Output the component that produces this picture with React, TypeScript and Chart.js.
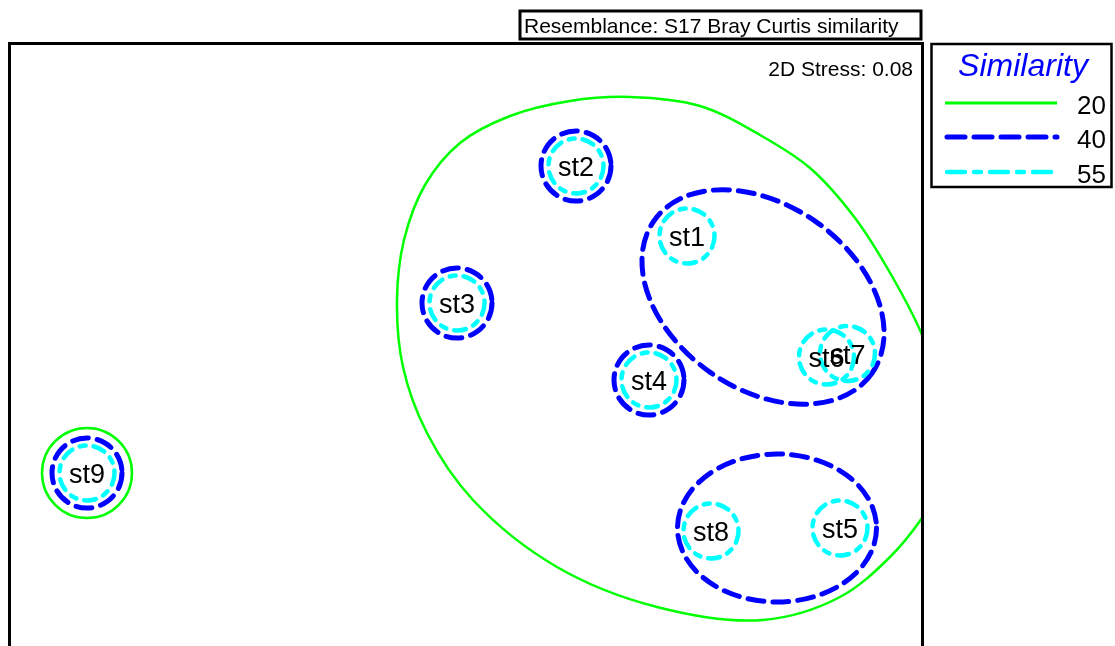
import React, { useEffect, useRef } from "react";
import { Chart, registerables } from "chart.js";

Chart.register(...registerables);

// nMDS configuration (arbitrary MDS units)
const sampleLabels = ["st1", "st2", "st3", "st4", "st5", "st6", "st7", "st8", "st9"];
const sampleX = [67.7, 56.6, 44.7, 63.9, 83.0, 81.65, 83.75, 70.1, 7.7];
const sampleY = [41.0, 48.0, 34.3, 26.6, 11.8, 28.9, 29.25, 11.5, 17.3];

// Similarity contour levels
const levelValues = ["20", "40", "55"];

// 55% contours: ellipses (cx, cy, rx, ry, angle deg)
const c55Cx = [67.7, 56.6, 44.7, 63.9, 83.0, 81.65, 83.75, 70.1, 7.7];
const c55Cy = [41.0, 48.0, 34.3, 26.6, 11.8, 28.9, 29.25, 11.5, 17.3];
const c55Rx = [2.75, 2.75, 2.75, 2.75, 2.75, 2.75, 2.75, 2.75, 2.75];
const c55Ry = [2.75, 2.75, 2.75, 2.75, 2.75, 2.75, 2.75, 2.75, 2.75];
const c55Ang = [0, 0, 0, 0, 0, 0, 0, 0, 0];

// 40% contours
const c40Cx = [56.6, 44.7, 63.9, 7.7, 75.3, 76.7];
const c40Cy = [48.0, 34.3, 26.6, 17.3, 34.9, 11.8];
const c40Rx = [3.5, 3.5, 3.5, 3.5, 13.3, 9.95];
const c40Ry = [3.5, 3.5, 3.5, 3.5, 9.2, 7.4];
const c40Ang = [0, 0, 0, 0, -35, 0];

// 20% contours: circle around st9 and a closed curve around the rest
const c20CircleCx = [7.7];
const c20CircleCy = [17.3];
const c20CircleR = [4.5];
const c20CurveX = [62.0, 69.0, 75.0, 80.0, 84.5, 88.3, 91.3, 93.2, 93.8, 92.8, 91.2, 88.0, 83.0, 75.3, 64.7, 54.7, 46.3, 41.7, 39.3, 38.7, 39.4, 41.5, 45.0, 50.0, 56.0];
const c20CurveY = [54.9, 54.0, 51.1, 47.8, 42.8, 36.8, 30.9, 25.1, 20.1, 15.6, 12.8, 8.9, 4.9, 2.6, 3.9, 7.9, 14.6, 21.3, 27.9, 34.6, 40.6, 46.1, 50.3, 53.0, 54.5];

const stressText = "2D Stress: 0.08";
const titleText = "Resemblance: S17 Bray Curtis similarity";
const legendTitle = "Similarity";

const GREEN = "#00ff00";
const BLUE = "#0000ff";
const CYAN = "#00ffff";
const FONT = "'Liberation Sans', Arial, sans-serif";

function setStyle(ctx: CanvasRenderingContext2D, level: number) {
  ctx.lineCap = "round";
  ctx.lineJoin = "round";
  if (level === 0) {
    ctx.strokeStyle = GREEN;
    ctx.lineWidth = 2.5;
    ctx.setLineDash([]);
  } else if (level === 1) {
    ctx.strokeStyle = BLUE;
    ctx.lineWidth = 5;
    ctx.setLineDash([16, 9]);
  } else {
    ctx.strokeStyle = CYAN;
    ctx.lineWidth = 4.5;
    ctx.setLineDash([12, 8, 6, 8]);
  }
}

const contourPlugin = {
  id: "contours",
  beforeDatasetsDraw(chart: any) {
    const { ctx, chartArea } = chart;
    const xs = chart.scales.x;
    const ys = chart.scales.y;
    const unit = xs.getPixelForValue(1) - xs.getPixelForValue(0);
    ctx.save();
    ctx.beginPath();
    ctx.rect(chartArea.left, chartArea.top, chartArea.right - chartArea.left, chartArea.bottom - chartArea.top);
    ctx.clip();

    const drawEll = (cx: number, cy: number, rx: number, ry: number, ang: number) => {
      ctx.beginPath();
      ctx.ellipse(xs.getPixelForValue(cx), ys.getPixelForValue(cy), rx * unit, ry * unit, (-ang * Math.PI) / 180, 0, Math.PI * 2);
      ctx.stroke();
    };

    // 20
    setStyle(ctx, 0);
    for (let i = 0; i < c20CircleCx.length; i++) drawEll(c20CircleCx[i], c20CircleCy[i], c20CircleR[i], c20CircleR[i], 0);
    const pts = c20CurveX.map((x, i) => [xs.getPixelForValue(x), ys.getPixelForValue(c20CurveY[i])]);
    const n = pts.length;
    const dist = (a: number[], b: number[]) => Math.sqrt(Math.hypot(a[0] - b[0], a[1] - b[1]));
    ctx.beginPath();
    ctx.moveTo(pts[0][0], pts[0][1]);
    for (let i = 0; i < n; i++) {
      const p0 = pts[(i - 1 + n) % n];
      const p1 = pts[i];
      const p2 = pts[(i + 1) % n];
      const p3 = pts[(i + 2) % n];
      const d1 = dist(p0, p1), d2 = dist(p1, p2), d3 = dist(p2, p3);
      const b1 = [0, 1].map(
        (k) => (d1 * d1 * p2[k] - d2 * d2 * p0[k] + (2 * d1 * d1 + 3 * d1 * d2 + d2 * d2) * p1[k]) / (3 * d1 * (d1 + d2))
      );
      const b2 = [0, 1].map(
        (k) => (d3 * d3 * p1[k] - d2 * d2 * p3[k] + (2 * d3 * d3 + 3 * d3 * d2 + d2 * d2) * p2[k]) / (3 * d3 * (d3 + d2))
      );
      ctx.bezierCurveTo(b1[0], b1[1], b2[0], b2[1], p2[0], p2[1]);
    }
    ctx.closePath();
    ctx.stroke();

    // 40
    setStyle(ctx, 1);
    for (let i = 0; i < c40Cx.length; i++) drawEll(c40Cx[i], c40Cy[i], c40Rx[i], c40Ry[i], c40Ang[i]);
    // 55
    setStyle(ctx, 2);
    for (let i = 0; i < c55Cx.length; i++) drawEll(c55Cx[i], c55Cy[i], c55Rx[i], c55Ry[i], c55Ang[i]);
    ctx.restore();
  },
  afterDatasetsDraw(chart: any) {
    const { ctx } = chart;
    const meta = chart.getDatasetMeta(0);
    ctx.save();
    ctx.fillStyle = "#000";
    ctx.font = `27px ${FONT}`;
    ctx.textAlign = "center";
    ctx.textBaseline = "alphabetic";
    meta.data.forEach((el: any, i: number) => {
      ctx.fillText(sampleLabels[i], el.x, el.y + 10);
    });
    ctx.restore();
  },
  afterDraw(chart: any) {
    const { ctx, chartArea } = chart;
    ctx.save();
    ctx.setLineDash([]);
    ctx.strokeStyle = "#000";
    ctx.lineWidth = 3;
    ctx.lineCap = "butt";
    // frame (left, top, right)
    ctx.beginPath();
    ctx.moveTo(chartArea.left - 0.5, chartArea.bottom + 5);
    ctx.lineTo(chartArea.left - 0.5, chartArea.top + 0.5);
    ctx.lineTo(chartArea.right + 0.5, chartArea.top + 0.5);
    ctx.lineTo(chartArea.right + 0.5, chartArea.bottom + 5);
    ctx.stroke();
    // title box
    ctx.lineWidth = 3;
    ctx.strokeRect(520, 11, 401, 28);
    ctx.fillStyle = "#000";
    ctx.font = `21px ${FONT}`;
    ctx.textAlign = "left";
    ctx.textBaseline = "alphabetic";
    ctx.fillText(titleText, 524, 33);
    // stress
    ctx.textAlign = "right";
    ctx.fillText(stressText, 913, 76);
    // legend box
    ctx.lineWidth = 2.5;
    ctx.strokeRect(931.5, 44, 180, 143);
    ctx.fillStyle = BLUE;
    ctx.font = `italic 32px ${FONT}`;
    ctx.textAlign = "center";
    ctx.fillText(legendTitle, 1023, 76);
    const ly = [103, 137, 172];
    for (let i = 0; i < 3; i++) {
      ctx.save();
      setStyle(ctx, i);
      if (i === 1) ctx.setLineDash([18, 9]);
      if (i === 2) ctx.setLineDash([18, 9, 7, 9]);
      if (i === 0) ctx.lineWidth = 3;
      ctx.lineCap = i === 0 ? "butt" : "round";
      ctx.beginPath();
      ctx.moveTo(i === 0 ? 945 : 947, ly[i]);
      ctx.lineTo(1057, ly[i]);
      ctx.stroke();
      ctx.restore();
      ctx.fillStyle = "#000";
      ctx.font = `26px ${FONT}`;
      ctx.textAlign = "right";
      ctx.fillText(levelValues[i], 1106, ly[i] + 11);
    }
    ctx.restore();
  },
};

export default function App() {
  const ref = useRef<HTMLCanvasElement | null>(null);
  useEffect(() => {
    if (!ref.current) return;
    const chart = new Chart(ref.current, {
      type: "scatter",
      data: {
        datasets: [
          {
            data: sampleX.map((x, i) => ({ x, y: sampleY[i] })),
            pointRadius: 0,
            pointHoverRadius: 0,
            showLine: false,
          },
        ],
      },
      options: {
        responsive: false,
        animation: false,
        devicePixelRatio: 1,
        layout: { padding: { left: 10, top: 43, right: 193, bottom: 0 } },
        scales: {
          x: { type: "linear", min: 0, max: 91.2, display: false },
          y: { type: "linear", min: 0, max: 60.3, display: false },
        },
        plugins: { legend: { display: false }, tooltip: { enabled: false }, title: { display: false } },
        events: [],
      },
      plugins: [contourPlugin],
    });
    return () => chart.destroy();
  }, []);
  return (
    <div style={{ position: "fixed", left: 0, top: 0, width: 1115, height: 646, background: "#fff" }}>
      <canvas ref={ref} width={1115} height={646} style={{ display: "block" }} />
    </div>
  );
}
